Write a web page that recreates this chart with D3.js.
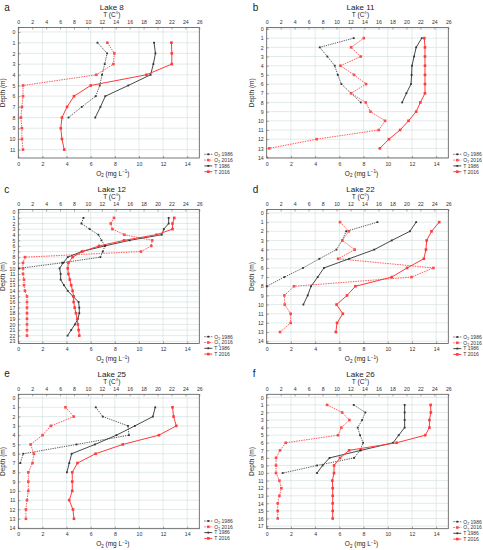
<!DOCTYPE html>
<html>
<head>
<meta charset="utf-8">
<script src="https://cdn.jsdelivr.net/npm/d3@7"></script>
<style>
  body { margin: 0; background: #fff; }
  svg { display: block; font-family: "Liberation Sans", Arial, sans-serif; }
</style>
</head>
<body>
<svg id="chart" width="483" height="550"></svg>
<script>
// Tick values
const o2Ticks = [0, 2, 4, 6, 8, 10, 12, 14];
const tTicks = [0, 2, 4, 6, 8, 10, 12, 14, 16, 18, 20, 22, 24, 26];

// Panel labels
const panelLetters = ["a", "b", "c", "d", "e", "f"];
const lakeNames = ["Lake 8", "Lake 11", "Lake 12", "Lake 22", "Lake 25", "Lake 26"];
const depthMax = [11, 14, 23, 14, 14, 17];

// Profiles, first value at 1 m, then one value per metre
const lake8O2_1986 = [6.56, 7.36, 7.16, 6.94, 6.75, 6.42, 5.26, 4.16];
const lake8O2_2016 = [7.38, 7.96, 7.88, 6.47, 0.39, 0.39, 0.30, 0.22, 0.30, 0.30, 0.39];
const lake8T_1986 = [19.5, 19.7, 19.4, 19.0, 15.8, 12.5, 11.8, 11.05];
const lake8T_2016 = [22.0, 22.05, 22.05, 18.4, 10.4, 8.0, 7.0, 6.27, 6.1, 6.27, 6.6];

const lake11O2_1986 = [7.19, 4.38, 5.01, 5.62, 5.87, 6.17, 6.97, 7.77];
const lake11O2_2016 = [8.02, 6.97, 7.77, 6.09, 7.22, 8.21, 6.97, 8.18, 8.57, 9.78, 9.26, 4.13, 0.22];
const lake11T_1986 = [22.2, 21.4, 21.1, 20.8, 20.75, 20.66, 20.0, 19.4];
const lake11T_2016 = [22.57, 22.66, 22.66, 22.66, 22.66, 22.66, 22.66, 22.0, 21.4, 20.3, 19.1, 17.5, 16.2];

const lake12O2_1986 = [5.4, 5.23, 5.92, 6.64, 6.89, 7.19, 7.0, 6.8, 3.64, 0.05];
const lake12O2_2016 = [7.93, 7.66, 7.8, 8.79, 11.1, 11.02, 10.17, 0.55, 0.39, 0.39, 0.39, 0.47, 0.47, 0.55, 0.72, 0.72, 0.72, 0.72, 0.72, 0.72, 0.72, 0.72];
const lake12T_1986 = [21.6, 21.6, 20.9, 20.6, 16.0, 12.4, 9.1, 7.1, 6.46, 5.93, 6.08, 6.08, 6.55, 7.1, 7.85, 8.66, 8.76, 8.76, 8.56, 8.13, 7.6, 7.08];
const lake12T_2016 = [22.4, 22.15, 22.15, 19.86, 15.2, 11.6, 9.2, 7.8, 7.2, 7.1, 7.2, 7.4, 7.6, 7.8, 7.95, 7.95, 8.1, 8.28, 8.47, 8.56, 8.66, 8.76];

const lake22O2_1986 = [9.15, 6.56, 6.23, 5.76, 4.35, 3.0, 1.46, 0.0];
const lake22O2_2016 = [6.06, 6.78, 6.25, 7.27, 5.9, 13.77, 11.96, 2.26, 1.46, 1.49, 1.98, 1.98, 1.1];
const lake22T_1986 = [21.4, 20.5, 17.9, 15.4, 11.8, 8.2, 7.3, 6.35, 5.87, 5.25];
const lake22T_2016 = [24.7, 23.6, 22.9, 22.8, 22.5, 20.1, 17.9, 12.7, 11.5, 10.0, 10.9, 10.07, 9.9];

const lake25O2_1986 = [6.42, 7.0, 9.09, 9.17, 4.82, 0.41, 0.17];
const lake25O2_2016 = [3.91, 4.6, 2.7, 2.01, 1.02, 1.29, 1.18, 0.83, 0.83, 0.83, 0.72, 0.63, 0.63];
const lake25T_1986 = [19.67, 19.33, 16.75, 14.1, 11.0, 7.66, 7.32, 6.98];
const lake25T_2016 = [22.15, 22.3, 22.7, 20.2, 15.0, 11.1, 8.5, 7.75, 7.75, 7.75, 7.32, 7.85, 8.0];

const lake26O2_1986 = [7.19, 8.15, 7.88, 7.52, 7.71, 7.96, 7.71, 7.22, 4.16, 1.32];
const lake26O2_2016 = [4.99, 6.23, 6.83, 6.17, 5.9, 1.57, 1.1, 0.77, 0.77, 0.77, 1.05, 1.21, 1.05, 0.91, 0.91, 0.91];
const lake26T_1986 = [19.75, 19.75, 19.75, 19.75, 18.9, 18.1, 13.5, 9.0, 8.0, 7.2];
const lake26T_2016 = [23.47, 23.5, 23.3, 23.3, 22.7, 18.6, 11.8, 10.5, 9.64, 9.64, 9.4, 9.45, 9.45, 9.45, 9.45, 9.45];

const profiles = [
  [lake8O2_1986, lake8O2_2016, lake8T_1986, lake8T_2016],
  [lake11O2_1986, lake11O2_2016, lake11T_1986, lake11T_2016],
  [lake12O2_1986, lake12O2_2016, lake12T_1986, lake12T_2016],
  [lake22O2_1986, lake22O2_2016, lake22T_1986, lake22T_2016],
  [lake25O2_1986, lake25O2_2016, lake25T_1986, lake25T_2016],
  [lake26O2_1986, lake26O2_2016, lake26T_1986, lake26T_2016]
];

// series styles: O2 on bottom axis, T on top axis
const seriesStyle = [
  { axis: "o2", color: "#333", dash: "1.3,1", width: 0.8, mark: 1.8, label: ["O", "2", " 1986"] },
  { axis: "o2", color: "#ff4a4a", dash: "1.5,1", width: 0.9, mark: 2.6, label: ["O", "2", "  2016"] },
  { axis: "t", color: "#333", dash: null, width: 0.9, mark: 1.8, label: ["T 1986"] },
  { axis: "t", color: "#ff3a3a", dash: null, width: 1.0, mark: 2.6, label: ["T 2016"] }
];

// layout of each plot box
const boxes = [
  { x0: 18.3, x1: 199.3, y0: 27.5, y1: 158, dom: [-0.42, 11.78], leg: 154.3 },
  { x0: 266.7, x1: 448.3, y0: 27.5, y1: 158, dom: [-0.16, 14.05], leg: 154.3 },
  { x0: 18.3, x1: 199.3, y0: 209.5, y1: 343.5, dom: [-0.5, 23.4], leg: 336.7 },
  { x0: 266.7, x1: 448.3, y0: 209.5, y1: 343.5, dom: [-0.38, 14.25], leg: 337 },
  { x0: 18.3, x1: 199.3, y0: 394.3, y1: 528.7, dom: [-0.4, 14.07], leg: 521 },
  { x0: 266.7, x1: 448.3, y0: 394.3, y1: 528.7, dom: [-0.4, 17.35], leg: 521.7 }
];

const svg = d3.select("#chart");
const gridColor = "#d6e2e1";

boxes.forEach((b, i) => {
  const g = svg.append("g");
  const xO2 = d3.scaleLinear().domain([0, 15]).range([b.x0, b.x1]);
  const xT = d3.scaleLinear().domain([0, 26]).range([b.x0, b.x1]);
  const y = d3.scaleLinear().domain(b.dom).range([b.y0, b.y1]);
  const depthTicks = d3.range(0, depthMax[i] + 1);

  // grid
  g.selectAll(".vg").data(o2Ticks.filter(d => d > 0)).enter().append("line")
    .attr("x1", d => xO2(d)).attr("x2", d => xO2(d))
    .attr("y1", b.y0).attr("y2", b.y1)
    .attr("stroke", gridColor).attr("stroke-width", 0.7);
  g.selectAll(".hg").data(depthTicks).enter().append("line")
    .attr("x1", b.x0).attr("x2", b.x1)
    .attr("y1", d => y(d)).attr("y2", d => y(d))
    .attr("stroke", gridColor).attr("stroke-width", 0.7);

  // axes
  const fs = 5.2;
  const top = g.append("g").attr("transform", `translate(0,${b.y0})`)
    .call(d3.axisTop(xT).tickValues(tTicks).tickSizeInner(-2).tickSizeOuter(0).tickPadding(3.5));
  const bottom = g.append("g").attr("transform", `translate(0,${b.y1})`)
    .call(d3.axisBottom(xO2).tickValues(o2Ticks).tickSizeInner(-2).tickSizeOuter(0).tickPadding(4));
  const left = g.append("g").attr("transform", `translate(${b.x0},0)`)
    .call(d3.axisLeft(y).tickValues(depthTicks).tickFormat(d3.format("d")).tickSizeInner(-2).tickSizeOuter(0).tickPadding(3));
  [top, bottom, left].forEach(a => {
    a.select(".domain").remove();
    a.selectAll("line").attr("stroke", "#666").attr("stroke-width", 0.6);
    a.selectAll("text").attr("font-size", fs).attr("fill", "#333").attr("font-family", "Liberation Sans, Arial, sans-serif");
  });

  // frame
  g.append("rect").attr("x", b.x0).attr("y", b.y0)
    .attr("width", b.x1 - b.x0).attr("height", b.y1 - b.y0)
    .attr("fill", "none").attr("stroke", "#555").attr("stroke-width", 0.8);

  // series
  profiles[i].forEach((vals, k) => {
    const s = seriesStyle[k];
    const xs = s.axis === "o2" ? xO2 : xT;
    const pts = vals.map((v, j) => ({ depth: j + 1, v: v }));
    const line = d3.line().x(d => xs(d.v)).y(d => y(d.depth));
    g.append("path").datum(pts).attr("d", line)
      .attr("fill", "none").attr("stroke", s.color)
      .attr("stroke-width", s.width)
      .attr("stroke-dasharray", s.dash);
    g.selectAll(null).data(pts).enter().append("rect")
      .attr("x", d => xs(d.v) - s.mark / 2).attr("y", d => y(d.depth) - s.mark / 2)
      .attr("width", s.mark).attr("height", s.mark)
      .attr("fill", s.color);
  });

  const cx = (b.x0 + b.x1) / 2;
  // panel letter and titles
  g.append("text").attr("x", b.x0 - 14).attr("y", b.y0 - 17)
    .attr("font-size", 10).attr("fill", "#222").text(panelLetters[i]);
  g.append("text").attr("x", cx + 3).attr("y", b.y0 - 17.5)
    .attr("text-anchor", "middle").attr("font-size", 8).attr("fill", "#222").text(lakeNames[i]);
  g.append("text").attr("x", cx + 3).attr("y", b.y0 - 10.5)
    .attr("text-anchor", "middle").attr("font-size", 6.5).attr("fill", "#222").text("T (C°)");

  // bottom axis title
  const ot = g.append("text").attr("x", cx + 4).attr("y", b.y1 + 17.5)
    .attr("text-anchor", "middle").attr("font-size", 6.5).attr("fill", "#222");
  ot.append("tspan").text("O");
  ot.append("tspan").attr("font-size", 4.5).attr("dy", 1.5).text("2");
  ot.append("tspan").attr("dy", -1.5).text(" (mg L");
  ot.append("tspan").attr("font-size", 4.5).attr("dy", -2.5).text("−1");
  ot.append("tspan").attr("dy", 2.5).text(")");

  // depth title
  g.append("text")
    .attr("transform", `translate(${b.x0 - 13},${(b.y0 + b.y1) / 2}) rotate(-90)`)
    .attr("text-anchor", "middle").attr("font-size", 6.5).attr("fill", "#222")
    .text("Depth (m)");

  // legend
  seriesStyle.forEach((s, k) => {
    const ly = b.leg + k * 5.8;
    const lx = b.x1 + 5;
    g.append("line").attr("x1", lx).attr("x2", lx + 8).attr("y1", ly).attr("y2", ly)
      .attr("stroke", s.color).attr("stroke-width", s.width).attr("stroke-dasharray", s.dash);
    g.append("rect").attr("x", lx + 4 - s.mark / 2).attr("y", ly - s.mark / 2)
      .attr("width", s.mark).attr("height", s.mark).attr("fill", s.color);
    const t = g.append("text").attr("x", lx + 10).attr("y", ly + 1.8)
      .attr("font-size", 5).attr("fill", "#333");
    if (s.label.length === 3) {
      t.append("tspan").text(s.label[0]);
      t.append("tspan").attr("font-size", 3.6).attr("dy", 1.2).text(s.label[1]);
      t.append("tspan").attr("dy", -1.2).text(s.label[2]);
    } else {
      t.text(s.label[0]);
    }
  });
});
</script>
</body>
</html>
